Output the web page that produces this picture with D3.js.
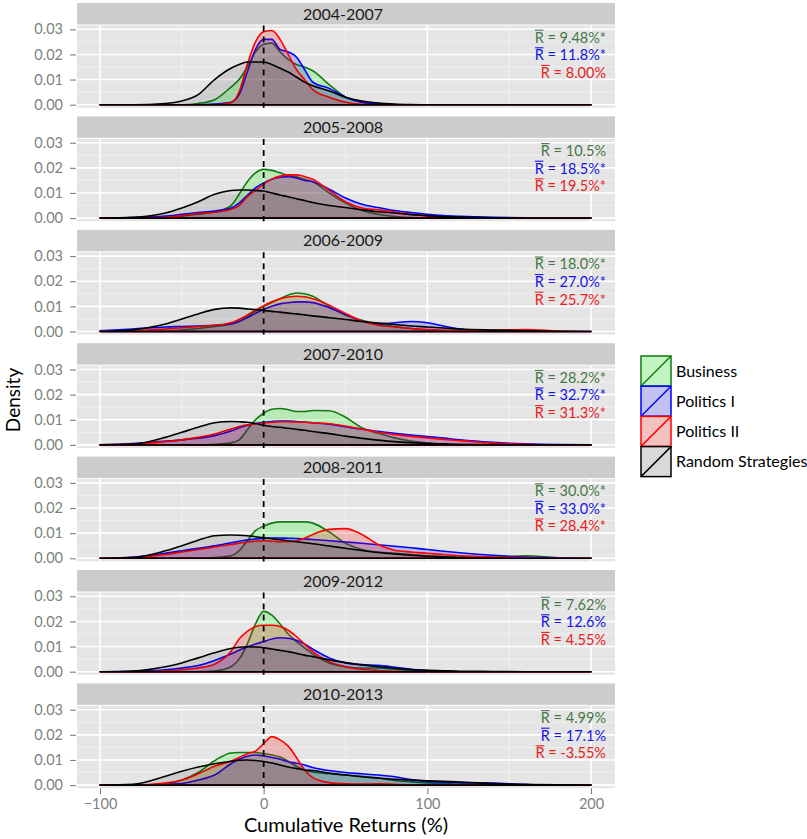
<!DOCTYPE html>
<html>
<head>
<meta charset="utf-8">
<script src="https://cdn.jsdelivr.net/npm/d3@7"></script>
<style>
  html, body { margin: 0; padding: 0; background: #ffffff; }
  svg { display: block; }
  text { font-family: Lato, "Open Sans", sans-serif; }
</style>
</head>
<body>
<svg id="chart" width="807" height="839"></svg>
<script>
// ---------------- DATA ----------------
const periods = ["2004-2007", "2005-2008", "2006-2009", "2007-2010", "2008-2011", "2009-2012", "2010-2013"];
const seriesNames = ["Business", "Politics I", "Politics II", "Random Strategies"];
const xTicks = [-100, 0, 100, 200];
const yTicks = [0, 0.01, 0.02, 0.03];

// evaluation grid for the density curves (cumulative return, %)
const xGrid = [-100, -80, -60, -50, -40, -30, -20, -15, -10, -5, 0, 5, 10, 15, 20, 25, 30, 40, 50, 60, 70, 80, 90, 100, 110, 120, 140, 160, 180, 200];

// densities per period (rows) at xGrid (columns)
const densBusiness = [
  [0,0,0,0,0.0005,0.002,0.007,0.010,0.015,0.021,0.024,0.0245,0.021,0.018,0.016,0.015,0.0135,0.008,0.003,0.001,0.0003,0,0,0,0,0,0,0,0,0],
  [0,0,0.0003,0.0008,0.0015,0.0025,0.005,0.0095,0.0145,0.018,0.0194,0.019,0.018,0.017,0.0165,0.0155,0.0145,0.010,0.006,0.003,0.0015,0.0006,0.0002,0,0,0,0,0,0,0],
  [0,0,0.0002,0.0006,0.0012,0.002,0.003,0.004,0.006,0.008,0.010,0.0115,0.013,0.0145,0.0153,0.015,0.014,0.010,0.0065,0.0045,0.003,0.002,0.0012,0.0006,0.0003,0,0,0,0,0],
  [0,0,0,0,0,0.0002,0.0008,0.002,0.006,0.010,0.0126,0.0142,0.0145,0.014,0.0133,0.0133,0.0137,0.0136,0.011,0.0068,0.0046,0.0028,0.0015,0.0007,0.0003,0,0,0,0,0],
  [0,0,0,0,0,0.0003,0.001,0.003,0.007,0.011,0.0128,0.014,0.0145,0.0145,0.0145,0.0145,0.014,0.0105,0.006,0.0035,0.0025,0.002,0.0015,0.001,0.0007,0.0005,0.0004,0.001,0.0002,0],
  [0,0,0,0,0,0.0003,0.002,0.005,0.011,0.019,0.024,0.0225,0.019,0.015,0.012,0.0095,0.007,0.0035,0.002,0.0015,0.0015,0.001,0.0005,0.0002,0,0,0,0,0,0],
  [0,0,0.0003,0.002,0.005,0.0097,0.0128,0.013,0.013,0.013,0.0125,0.012,0.0112,0.0095,0.0075,0.006,0.0052,0.0045,0.004,0.0035,0.0028,0.0018,0.0013,0.0009,0.0006,0.0004,0.0001,0,0,0]
];
const densPolitics1 = [
  [0,0,0,0,0,0.0003,0.001,0.004,0.013,0.022,0.026,0.026,0.022,0.021,0.019,0.014,0.009,0.0065,0.003,0.001,0.0002,0,0,0,0,0,0,0,0,0],
  [0,0.0002,0.0008,0.0015,0.0022,0.0028,0.004,0.006,0.009,0.012,0.014,0.0155,0.0163,0.0165,0.016,0.015,0.0145,0.0115,0.008,0.0055,0.0042,0.003,0.0022,0.0015,0.001,0.0007,0.0003,0.0001,0,0],
  [0.0003,0.001,0.0018,0.002,0.0022,0.0025,0.003,0.004,0.0055,0.0072,0.0088,0.010,0.011,0.0115,0.0118,0.0118,0.0115,0.0095,0.0068,0.0042,0.003,0.0035,0.004,0.0035,0.0022,0.001,0.0002,0,0,0],
  [0,0.0005,0.0015,0.002,0.0027,0.0037,0.0055,0.0068,0.0078,0.0085,0.009,0.0093,0.0095,0.0095,0.0093,0.0091,0.0088,0.0082,0.0072,0.0062,0.0054,0.0046,0.0039,0.0033,0.0027,0.002,0.001,0.0004,0.0001,0],
  [0,0.0005,0.002,0.003,0.004,0.005,0.0062,0.0068,0.0073,0.0077,0.008,0.0081,0.0081,0.008,0.0079,0.0077,0.0075,0.007,0.0065,0.006,0.0054,0.0048,0.0042,0.0035,0.0028,0.0022,0.0012,0.0005,0.0002,0],
  [0,0.0002,0.0008,0.0015,0.0025,0.0045,0.007,0.0085,0.0098,0.011,0.012,0.013,0.0135,0.0133,0.0125,0.011,0.009,0.0055,0.0035,0.0028,0.0025,0.0018,0.001,0.0005,0.0002,0,0,0,0,0],
  [0,0,0.0002,0.0006,0.002,0.004,0.0085,0.0103,0.0115,0.012,0.0116,0.011,0.0103,0.0093,0.0087,0.008,0.007,0.0058,0.005,0.0045,0.004,0.0033,0.0022,0.0015,0.0012,0.001,0.0008,0.0002,0,0]
];
const densPolitics2 = [
  [0,0,0,0,0,0,0.0008,0.005,0.016,0.025,0.029,0.0295,0.026,0.020,0.014,0.010,0.006,0.003,0.001,0.0002,0,0,0,0,0,0,0,0,0,0],
  [0,0,0.0003,0.001,0.0018,0.0023,0.0035,0.005,0.0085,0.011,0.0135,0.0155,0.0167,0.0172,0.0172,0.0165,0.0155,0.011,0.0065,0.004,0.0033,0.0024,0.0015,0.0008,0.0004,0.0002,0,0,0,0],
  [0,0.0003,0.001,0.0015,0.002,0.0025,0.0035,0.0048,0.0065,0.0085,0.0103,0.0118,0.013,0.0137,0.014,0.0138,0.013,0.0105,0.0072,0.0042,0.0025,0.0018,0.0012,0.0008,0.0005,0.0003,0.0005,0.0008,0.0002,0],
  [0,0.0003,0.0013,0.002,0.003,0.0043,0.0063,0.0073,0.008,0.0084,0.0087,0.009,0.0092,0.0092,0.0091,0.009,0.0088,0.0084,0.0075,0.0063,0.005,0.0041,0.0034,0.0028,0.0022,0.0017,0.0007,0.0002,0,0],
  [0,0.0003,0.0015,0.0025,0.0035,0.0045,0.0055,0.006,0.0065,0.0068,0.007,0.0068,0.0066,0.0066,0.007,0.008,0.0095,0.0115,0.0118,0.0095,0.0055,0.0032,0.0025,0.002,0.0015,0.001,0.0005,0.0002,0,0],
  [0,0,0.0003,0.0008,0.0015,0.003,0.008,0.013,0.016,0.018,0.0185,0.0185,0.018,0.0165,0.014,0.011,0.008,0.004,0.002,0.001,0.0005,0.0002,0,0,0,0,0,0,0,0],
  [0,0,0.0008,0.002,0.0045,0.0075,0.0095,0.011,0.0125,0.0135,0.0165,0.0193,0.018,0.0155,0.011,0.006,0.003,0.001,0.0005,0.0004,0.0005,0.0003,0.0001,0,0,0,0,0,0,0]
];
const densRandom = [
  [0,0,0.0005,0.0015,0.004,0.010,0.0145,0.016,0.017,0.017,0.017,0.016,0.0145,0.013,0.011,0.009,0.0075,0.0055,0.003,0.0015,0.0007,0.0003,0.0001,0,0,0,0,0,0,0],
  [0,0.0003,0.002,0.004,0.0065,0.0095,0.011,0.0112,0.0112,0.011,0.0108,0.010,0.0092,0.0085,0.0077,0.007,0.0062,0.005,0.0042,0.0033,0.0025,0.002,0.0014,0.001,0.0006,0.0004,0.0001,0,0,0],
  [0,0.0007,0.003,0.005,0.007,0.0088,0.0094,0.0093,0.009,0.0087,0.0084,0.008,0.0077,0.0073,0.007,0.0066,0.0062,0.0055,0.0048,0.004,0.0034,0.0028,0.0022,0.0018,0.0014,0.001,0.0006,0.0003,0.0001,0],
  [0,0.0003,0.003,0.005,0.007,0.0088,0.0093,0.0092,0.009,0.0085,0.0078,0.0073,0.007,0.0066,0.0062,0.0058,0.0053,0.0045,0.0035,0.0026,0.0019,0.0013,0.0009,0.0006,0.0004,0.0002,0.0001,0,0,0],
  [0,0.0003,0.003,0.005,0.0072,0.009,0.0093,0.0092,0.009,0.0086,0.0082,0.0078,0.0074,0.007,0.0066,0.0062,0.0058,0.0049,0.004,0.0031,0.0023,0.0017,0.0012,0.0008,0.0005,0.0003,0.0001,0,0,0],
  [0,0.0003,0.002,0.0035,0.0055,0.0075,0.0092,0.0097,0.0099,0.0098,0.0095,0.009,0.0085,0.008,0.0073,0.0066,0.006,0.0047,0.0036,0.0027,0.002,0.0014,0.0009,0.0006,0.0004,0.0002,0.0001,0,0,0],
  [0,0.0003,0.0035,0.0055,0.0072,0.0085,0.0095,0.0099,0.010,0.0098,0.0094,0.0088,0.008,0.0072,0.0066,0.006,0.0058,0.0048,0.004,0.0033,0.0028,0.0023,0.002,0.0017,0.0015,0.0012,0.0006,0.0003,0.0001,0]
];

// mean cumulative return annotations (R-bar)
const meanBusiness = ["9.48%*", "10.5%", "18.0%*", "28.2%*", "30.0%*", "7.62%", "4.99%"];
const meanPolitics1 = ["11.8%*", "18.5%*", "27.0%*", "32.7%*", "33.0%*", "12.6%", "17.1%"];
const meanPolitics2 = ["8.00%", "19.5%*", "25.7%*", "31.3%*", "28.4%*", "4.55%", "-3.55%"];

// ---------------- STYLE ----------------
const lineColors = ["#137a13", "#0000ff", "#ff0000", "#000000"];
const fillColors = ["#00ff00", "#0000ff", "#ff0000", "#000000"];
const fillOpacity = [0.2, 0.2, 0.2, 0.1];
const textColors = ["#467846", "#1414e6", "#ea1c1c"];

const svg = d3.select("#chart");
const panelLeft = 77, panelRight = 615;
const pitch = 113.4, stripTop0 = 3, stripH = 21.5, panelOffset = 22.5, panelH = 82.3;

const x = d3.scaleLinear().domain([-100, 200]).range([100, 591]);

const allDens = [densBusiness, densPolitics1, densPolitics2, densRandom];
const means = [meanBusiness, meanPolitics1, meanPolitics2];

periods.forEach((p, i) => {
  const stripTop = stripTop0 + i * pitch;
  const top = stripTop + panelOffset;
  const y = d3.scaleLinear().domain([0, 0.03]).range([top + 79.2, top + 3.8]);

  // strip
  svg.append("rect").attr("x", panelLeft).attr("y", stripTop).attr("width", panelRight - panelLeft)
    .attr("height", stripH).attr("fill", "#cccccc");
  svg.append("text").attr("x", (panelLeft + panelRight) / 2 - 3).attr("y", stripTop + stripH / 2)
    .attr("dy", "0.36em").attr("text-anchor", "middle").attr("font-size", 16).attr("fill", "#1a1a1a").text(p);

  // panel bg
  svg.append("rect").attr("x", panelLeft).attr("y", top).attr("width", panelRight - panelLeft)
    .attr("height", panelH).attr("fill", "#e5e5e5");

  const g = svg.append("g");
  // minor grid
  [-50, 50, 150].forEach(v => g.append("line").attr("x1", x(v)).attr("x2", x(v)).attr("y1", top).attr("y2", top + panelH)
    .attr("stroke", "#f2f2f2").attr("stroke-width", 0.8));
  [0.005, 0.015, 0.025].forEach(v => g.append("line").attr("x1", panelLeft).attr("x2", panelRight).attr("y1", y(v)).attr("y2", y(v))
    .attr("stroke", "#f2f2f2").attr("stroke-width", 0.8));
  // major grid
  xTicks.forEach(v => g.append("line").attr("x1", x(v)).attr("x2", x(v)).attr("y1", top).attr("y2", top + panelH)
    .attr("stroke", "#ffffff").attr("stroke-width", 1.6));
  yTicks.forEach(v => g.append("line").attr("x1", panelLeft).attr("x2", panelRight).attr("y1", y(v)).attr("y2", y(v))
    .attr("stroke", "#ffffff").attr("stroke-width", 1.6));

  // densities
  const area = d3.area().x(d => x(d[0])).y0(y(0)).y1(d => y(d[1])).curve(d3.curveMonotoneX);
  allDens.forEach((dens, s) => {
    const pts = xGrid.map((xv, k) => [xv, dens[i][k]]);
    g.append("path").datum(pts)
      .attr("d", area(pts) + "Z")
      .attr("fill", fillColors[s]).attr("fill-opacity", fillOpacity[s])
      .attr("stroke", lineColors[s]).attr("stroke-width", 1.6).attr("stroke-linejoin", "round");
  });

  // dashed zero line
  g.append("line").attr("x1", x(0)).attr("x2", x(0)).attr("y1", top).attr("y2", top + panelH)
    .attr("stroke", "#000").attr("stroke-width", 1.8).attr("stroke-dasharray", "6,5");

  // y axis
  const yAxis = d3.axisLeft(y).tickValues(yTicks).tickFormat(d3.format(".2f")).tickSize(6).tickPadding(7);
  const ya = svg.append("g").attr("transform", `translate(${panelLeft - 1},0)`).call(yAxis);
  ya.select(".domain").remove();
  ya.selectAll(".tick line").attr("stroke", "#7f7f7f").attr("stroke-width", 1.1);
  ya.selectAll(".tick text").attr("fill", "#7f7f7f").attr("font-size", 14.5).attr("font-family", "Lato, sans-serif");

  // annotations: R-bar = mean
  means.forEach((arr, s) => {
    const ty = top + 17 + s * 17.6;
    const t = svg.append("text").attr("x", 606).attr("y", ty)
      .attr("text-anchor", "end").attr("font-size", 14.5).attr("fill", textColors[s]);
    t.append("tspan").text("R");
    t.append("tspan").text(" = " + arr[i]);
    const node = t.node();
    const p0 = node.getStartPositionOfChar(0), p1 = node.getEndPositionOfChar(0);
    svg.append("line").attr("x1", p0.x + 0.3).attr("x2", p1.x - 0.3)
      .attr("y1", ty - 12.3).attr("y2", ty - 12.3)
      .attr("stroke", textColors[s]).attr("stroke-width", 1.1);
  });

  // x axis on last panel
  if (i === periods.length - 1) {
    const xAxis = d3.axisBottom(x).tickValues(xTicks).tickSize(6).tickPadding(5);
    const xa = svg.append("g").attr("transform", `translate(0,${top + panelH})`).call(xAxis);
    xa.select(".domain").remove();
    xa.selectAll(".tick line").attr("stroke", "#7f7f7f").attr("stroke-width", 1.1);
    xa.selectAll(".tick text").attr("fill", "#7f7f7f").attr("font-size", 14.5).attr("font-family", "Lato, sans-serif");
  }
});

// axis titles
svg.append("text").attr("x", 346).attr("y", 832).attr("text-anchor", "middle").attr("font-size", 20)
  .attr("fill", "#000").text("Cumulative Returns (%)");
svg.append("text").attr("transform", "translate(20,400) rotate(-90)").attr("text-anchor", "middle")
  .attr("font-size", 19).attr("fill", "#000").text("Density");

// legend
const legend = svg.append("g").attr("transform", "translate(641,356)");
seriesNames.forEach((name, s) => {
  const ky = s * 30.2;
  legend.append("rect").attr("x", 0).attr("y", ky).attr("width", 30).attr("height", 30).attr("fill", "#f2f2f2");
  legend.append("rect").attr("x", 0).attr("y", ky).attr("width", 30).attr("height", 30)
    .attr("fill", fillColors[s]).attr("fill-opacity", fillOpacity[s])
    .attr("stroke", lineColors[s]).attr("stroke-width", 1.5);
  legend.append("line").attr("x1", 0).attr("y1", ky + 30).attr("x2", 30).attr("y2", ky)
    .attr("stroke", lineColors[s]).attr("stroke-width", 1.5);
  legend.append("text").attr("x", 35).attr("y", ky + 15).attr("dy", "0.35em").attr("font-size", 16)
    .attr("fill", "#000").text(name);
});
</script>
</body>
</html>
